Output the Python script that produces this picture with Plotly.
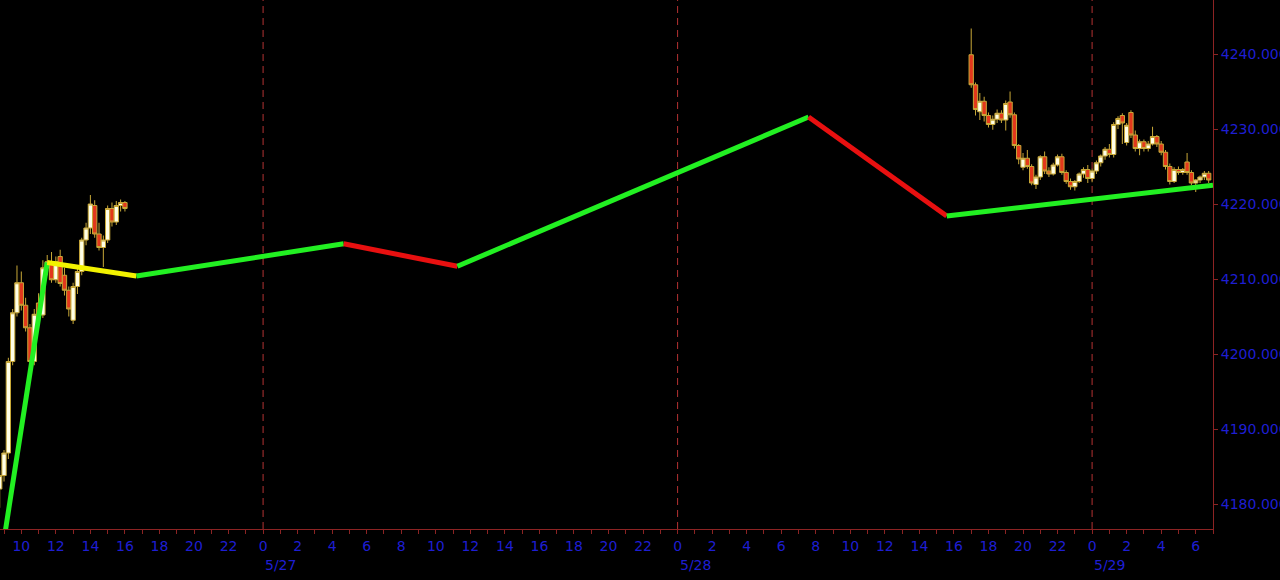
import pandas as pd
import plotly.graph_objects as go

# ---------------- data ----------------
left_start = "2020-05-26 08:45"
left_open = [4182.0, 4183.8, 4186.8, 4199.0, 4205.5, 4209.5, 4206.5, 4203.5, 4199.0, 4206.8,
             4205.2, 4211.5, 4212.3, 4209.9, 4213.0, 4210.5, 4208.5, 4204.5, 4209.0, 4211.0,
             4215.2, 4216.8, 4219.8, 4216.0, 4214.2, 4215.2, 4219.4, 4217.6, 4219.8, 4220.2]
left_high = [4184.5, 4187.2, 4199.5, 4206.0, 4211.8, 4211.0, 4207.5, 4204.0, 4206.0, 4208.1,
             4212.5, 4213.2, 4213.6, 4213.0, 4213.9, 4211.5, 4209.0, 4209.5, 4211.5, 4215.5,
             4217.5, 4221.2, 4220.5, 4217.5, 4215.8, 4219.8, 4220.2, 4220.4, 4220.6, 4220.4]
left_low = [4179.5, 4183.0, 4186.0, 4198.5, 4205.0, 4205.8, 4203.0, 4197.5, 4198.5, 4204.5,
            4204.8, 4210.5, 4209.5, 4209.5, 4209.0, 4207.8, 4205.0, 4204.0, 4208.0, 4210.5,
            4214.5, 4216.0, 4215.5, 4213.8, 4211.6, 4214.8, 4217.0, 4217.2, 4219.0, 4219.0]
left_close = [4183.8, 4186.8, 4199.0, 4205.5, 4209.5, 4206.5, 4203.5, 4199.0, 4205.3, 4205.2,
              4211.5, 4212.3, 4209.9, 4212.3, 4209.4, 4208.5, 4206.0, 4209.0, 4211.0, 4215.2,
              4216.8, 4220.0, 4216.0, 4214.2, 4215.2, 4219.4, 4217.6, 4219.8, 4220.2, 4219.4]

right_start = "2020-05-28 17:00"
right_open = [4239.9, 4235.9, 4232.3, 4233.7, 4231.8, 4230.6, 4231.3, 4232.1, 4231.2, 4233.6,
              4231.9, 4227.8, 4224.9, 4226.1, 4225.0, 4222.6, 4223.6, 4226.3, 4224.4, 4224.0,
              4225.2, 4226.3, 4224.2, 4223.0, 4222.3, 4223.0, 4224.0, 4224.6, 4223.4, 4224.4,
              4225.5, 4226.4, 4227.3, 4226.6, 4230.6, 4231.8, 4228.2, 4232.2, 4229.2, 4227.4,
              4228.3, 4227.4, 4228.0, 4229.0, 4228.0, 4226.9, 4225.0, 4223.0, 4224.6, 4224.2,
              4225.6, 4224.2, 4222.8, 4223.2, 4223.6, 4224.1]
right_high = [4243.4, 4236.2, 4234.8, 4234.3, 4232.2, 4231.8, 4232.6, 4232.5, 4233.8, 4235.0,
              4232.2, 4228.0, 4226.8, 4227.2, 4225.3, 4223.9, 4226.5, 4227.0, 4224.9, 4225.5,
              4226.6, 4226.7, 4224.5, 4223.4, 4223.2, 4224.2, 4224.9, 4225.2, 4224.7, 4225.8,
              4226.6, 4227.6, 4228.0, 4230.9, 4231.7, 4232.1, 4230.8, 4232.5, 4229.8, 4228.6,
              4228.6, 4228.4, 4230.3, 4229.2, 4228.4, 4227.2, 4225.4, 4224.9, 4225.0, 4224.8,
              4226.8, 4224.5, 4223.3, 4223.8, 4224.4, 4224.4]
right_low = [4235.5, 4231.8, 4231.2, 4231.0, 4230.2, 4229.9, 4230.8, 4230.8, 4229.8, 4231.5,
             4227.4, 4225.3, 4224.5, 4224.7, 4222.5, 4222.0, 4223.2, 4224.0, 4223.6, 4223.8,
             4225.0, 4223.9, 4222.7, 4221.9, 4221.8, 4222.8, 4223.5, 4222.8, 4222.9, 4224.0,
             4225.0, 4225.9, 4226.2, 4226.2, 4230.0, 4228.0, 4227.8, 4228.8, 4227.0, 4226.5,
             4227.0, 4227.0, 4227.8, 4227.6, 4226.5, 4224.6, 4222.6, 4222.8, 4223.9, 4223.9,
             4223.9, 4222.5, 4221.6, 4222.8, 4223.2, 4222.8]
right_close = [4235.9, 4232.6, 4233.7, 4231.8, 4230.6, 4231.3, 4232.1, 4231.2, 4233.4, 4231.9,
               4227.8, 4226.0, 4226.1, 4225.0, 4222.8, 4223.6, 4226.3, 4224.4, 4224.0, 4225.2,
               4226.3, 4224.2, 4223.0, 4222.3, 4223.0, 4224.0, 4224.6, 4223.4, 4224.4, 4225.5,
               4226.4, 4227.3, 4226.6, 4230.6, 4231.4, 4230.8, 4230.5, 4229.2, 4227.4, 4228.3,
               4227.4, 4228.0, 4229.0, 4228.0, 4226.9, 4225.0, 4223.0, 4224.6, 4224.2, 4224.6,
               4224.2, 4222.8, 4223.2, 4223.6, 4224.1, 4223.2]

zz_times = ["2020-05-26 09:00", "2020-05-26 11:30", "2020-05-26 16:40", "2020-05-27 04:40",
            "2020-05-27 11:15", "2020-05-28 07:35", "2020-05-28 15:35", "2020-05-29 07:00"]
zz_values = [4175.3, 4212.2, 4210.4, 4214.7, 4211.7, 4231.6, 4218.4, 4222.5]
zz_colors = ["#22F022", "#F2F200", "#22F022", "#E81010", "#22F022", "#E81010", "#22F022"]

day_breaks = ["2020-05-27", "2020-05-28", "2020-05-29"]
day_labels = ["5/27", "5/28", "5/29"]
y_ticks = [4180, 4190, 4200, 4210, 4220, 4230, 4240]

x_range = ["2020-05-26 08:46", "2020-05-29 07:00"]
y_range = [4176.67, 4247.2]

# ---------------- styling ----------------
BLUE = "#1E1ED2"
AXRED = "#8C2323"
DASHRED = "#B43232"
FONT = "DejaVu Sans"

fig = go.Figure()

candle_style = dict(
    increasing=dict(fillcolor="#FFFFE8", line=dict(color="#C8A838", width=1)),
    decreasing=dict(fillcolor="#E2381C", line=dict(color="#C8A838", width=1)),
    showlegend=False, hoverinfo="skip",
)
for start, o, h, l, c in [(left_start, left_open, left_high, left_low, left_close),
                          (right_start, right_open, right_high, right_low, right_close)]:
    t = pd.date_range(start, periods=len(o), freq="15min")
    fig.add_trace(go.Candlestick(x=t, open=o, high=h, low=l, close=c, **candle_style))

for i, col in enumerate(zz_colors):
    fig.add_trace(go.Scatter(x=zz_times[i:i + 2], y=zz_values[i:i + 2], mode="lines",
                             line=dict(color=col, width=5), showlegend=False, hoverinfo="skip"))

for d in day_breaks:
    fig.add_shape(type="line", xref="x", yref="paper", x0=d, x1=d, y0=0, y1=1,
                  line=dict(color=DASHRED, width=1, dash="7px,5px"), layer="below")

for d, lab in zip(day_breaks, day_labels):
    fig.add_annotation(x=d, xref="x", y=0, yref="paper", yshift=-36, text=lab,
                       showarrow=False, xanchor="left", yanchor="middle",
                       font=dict(family=FONT, size=14, color=BLUE))

hours = pd.date_range("2020-05-26 09:00", "2020-05-29 07:00", freq="1h")
tick_text = [str(h.hour) if h.hour % 2 == 0 else "" for h in hours]

fig.update_layout(
    width=1280, height=580,
    margin=dict(l=0, r=67, t=0, b=51, autoexpand=False),
    paper_bgcolor="black", plot_bgcolor="black",
    font=dict(family=FONT, size=14, color=BLUE),
    boxgap=0.0, boxgroupgap=0.0,
    xaxis=dict(
        type="date", range=x_range, rangeslider=dict(visible=False), automargin=False,
        tickmode="array", tickvals=hours, ticktext=tick_text,
        ticks="outside", ticklen=4, tickcolor=AXRED, tickwidth=1,
        showgrid=False, zeroline=False, showline=True, linecolor=AXRED, linewidth=1,
        tickfont=dict(family=FONT, size=14, color=BLUE),
    ),
    yaxis=dict(
        side="right", range=y_range, tickmode="array", tickvals=y_ticks, automargin=False,
        tickformat=".3f", ticks="outside", ticklen=4, tickcolor=AXRED,
        showgrid=False, zeroline=False, showline=True, linecolor=AXRED, linewidth=1,
        tickfont=dict(family=FONT, size=14, color=BLUE),
    ),
)

fig.write_html("out.html", config={"displayModeBar": False},
               post_script="document.body.style.margin='0px';document.body.style.background='black';")
